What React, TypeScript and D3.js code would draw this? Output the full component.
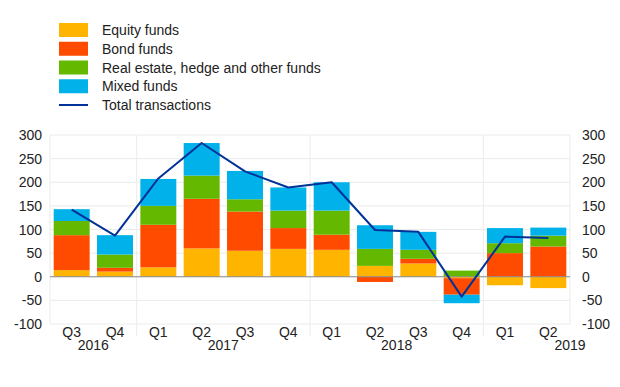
import * as d3 from "d3";
import React from "react";

// quarters and the year labels under them
const quarters = ["Q3", "Q4", "Q1", "Q2", "Q3", "Q4", "Q1", "Q2", "Q3", "Q4", "Q1", "Q2"];
const years = ["2016", "2017", "2018", "2019"];
const yearAt = [1, 4, 8, 12]; // band boundary under which the year is centred
const yearBreaks = [2, 6, 10];

// series (EUR billions)
const equity = [14, 11, 20, 60, 55, 59, 57, 23, 28, -3, -18, -24];
const bond = [74, 8, 90, 105, 83, 44, 32, -11, 10, -35, 50, 64];
const other = [30, 28, 40, 49, 26, 37, 51, 36, 19, 13, 21, 23];
const mixed = [25, 41, 57, 69, 60, 49, 60, 50, 38, -18, 32, 17];
const total = [142, 87, 208, 283, 223, 189, 200, 99, 95, -42, 85, 82];

const seriesNames = ["Equity funds", "Bond funds", "Real estate, hedge and other funds", "Mixed funds"];
const colors = ["#ffb400", "#ff4b00", "#65b800", "#00b1ea"];
const lineColor = "#003299";
const yTicks = [-100, -50, 0, 50, 100, 150, 200, 250, 300];

export default function App() {
  const width = 620;
  const height = 387;
  const left = 50;
  const right = 570;
  const top = 135;
  const bottom = 324;
  const font = "Liberation Sans, Arial, Helvetica, sans-serif";
  const fs = 14;

  const idx = quarters.map((_, i) => i);
  const x = d3.scaleBand<number>().domain(idx).range([left, right]).paddingInner(0.17).paddingOuter(0.085);
  const step = x.step();
  const edge = (k: number) => left + k * (right - left) / quarters.length;
  const y = d3.scaleLinear().domain([-100, 300]).range([bottom, top]);

  const rows = idx.map((i) => ({ i, s0: equity[i], s1: bond[i], s2: other[i], s3: mixed[i] }));
  const stacked = d3
    .stack<any>()
    .keys(["s0", "s1", "s2", "s3"])
    .offset(d3.stackOffsetDiverging)(rows);

  const line = d3
    .line<number>()
    .x((_, i) => edge(i) + step / 2)
    .y((d) => y(d));

  return (
    <svg width={width} height={height} style={{ position: "absolute", left: 0, top: 0 }} fontFamily={font}>
      <rect x={0} y={0} width={width} height={height} fill="white" />
      {/* legend */}
      {seriesNames.map((n, k) => (
        <g key={n} transform={`translate(59,${30 + k * 18.75})`}>
          <rect x={0} y={-7} width={29} height={14} fill={colors[k]} />
          <text x={43} y={5} fontSize={fs} fill="#222">{n}</text>
        </g>
      ))}
      <g transform={`translate(59,${30 + 4 * 18.75})`}>
        <line x1={0} x2={29} y1={0} y2={0} stroke={lineColor} strokeWidth={2} />
        <text x={43} y={5} fontSize={fs} fill="#222">Total transactions</text>
      </g>

      {/* grid */}
      {yTicks.map((t) => (
        <line key={t} x1={left} x2={right} y1={y(t)} y2={y(t)} stroke="#ebebeb" strokeWidth={1} />
      ))}
      <line x1={left} x2={left} y1={top} y2={bottom} stroke="#ebebeb" />
      <line x1={right} x2={right} y1={top} y2={bottom} stroke="#ebebeb" />
      {yearBreaks.map((b) => (
        <line key={b} x1={edge(b)} x2={edge(b)} y1={top} y2={336} stroke="#ebebeb" />
      ))}

      {/* bars */}
      {stacked.map((s, k) => (
        <g key={k} fill={colors[k]}>
          {s.map((d, i) => (
            <rect
              key={i}
              x={x(i)}
              width={x.bandwidth()}
              y={y(Math.max(d[0], d[1]))}
              height={Math.abs(y(d[0]) - y(d[1]))}
            />
          ))}
        </g>
      ))}
      <line x1={left} x2={right} y1={y(0)} y2={y(0)} stroke="#8c8c8c" strokeWidth={1} />

      {/* total line */}
      <path d={line(total) || ""} fill="none" stroke={lineColor} strokeWidth={2} strokeLinejoin="round" />

      {/* axes labels */}
      {yTicks.map((t) => (
        <g key={t} fontSize={fs} fill="#222">
          <text x={42} y={y(t) + 5} textAnchor="end">{t}</text>
          <text x={582} y={y(t) + 5}>{t}</text>
        </g>
      ))}
      {quarters.map((q, i) => (
        <text key={i} x={edge(i) + step / 2} y={337} fontSize={fs} fill="#222" textAnchor="middle">{q}</text>
      ))}
      {years.map((yr, k) => (
        <text key={yr} x={edge(yearAt[k])} y={350} fontSize={fs} fill="#222" textAnchor="middle">{yr}</text>
      ))}
    </svg>
  );
}
